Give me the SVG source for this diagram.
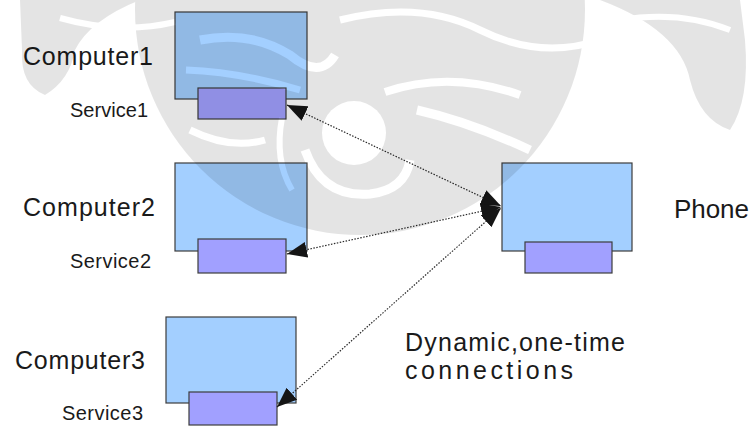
<svg xmlns="http://www.w3.org/2000/svg" width="751" height="426" viewBox="0 0 751 426">
<style>
.comp{fill:#a3cfff;stroke:#3c3c3c;stroke-width:1.2}
.svc{fill:#a1a0ff;stroke:#3c3c3c;stroke-width:1.2}
.big{font-family:"Liberation Sans",Arial,sans-serif;font-size:25px;fill:#1a1a1a}
.small{font-family:"Liberation Sans",Arial,sans-serif;font-size:20px;fill:#1a1a1a}
.note{font-family:"Liberation Sans",Arial,sans-serif;font-size:25px;fill:#1a1a1a}
.conn{fill:none;stroke:#2a2a2a;stroke-width:1.2;stroke-dasharray:1.5 1.5}
.wm{fill:#000;opacity:0.1}
.hole{fill:none;stroke:#000}
</style>
<defs>
<marker id="ah" markerUnits="userSpaceOnUse" markerWidth="22" markerHeight="18" refX="20" refY="8" orient="auto-start-reverse" viewBox="0 0 22 18">
<path d="M0,0 L20,8 L0,16 z" fill="#151515"/>
</marker>
<mask id="wmask">
<rect x="0" y="0" width="751" height="426" fill="#fff"/>
<circle cx="354" cy="133" r="32" fill="#000"/>
<path class="hole" d="M305,150 Q322,198 370,194 Q405,190 410,160" stroke-width="9"/>
<path class="hole" d="M282,118 Q274,160 292,190" stroke-width="6"/>
<path class="hole" d="M417,110 Q470,122 530,150" stroke-width="9"/>
<path class="hole" d="M385,92 Q450,70 520,95" stroke-width="8"/>
<path class="hole" d="M200,40 Q250,30 290,55 Q320,80 335,55" stroke-width="9"/>
<path class="hole" d="M186,70 Q240,72 300,90" stroke-width="7"/>
<path class="hole" d="M60,18 Q120,35 175,22" stroke-width="6"/>
<path class="hole" d="M340,20 Q420,0 480,30 Q540,60 600,40" stroke-width="7"/>
<path class="hole" d="M620,20 Q680,10 730,30" stroke-width="6"/>
<path class="hole" d="M190,130 Q230,150 265,140" stroke-width="7"/>
</mask>
</defs>
<rect x="0" y="0" width="751" height="426" fill="#fff"/>
<g id="computer1">
<rect class="comp" x="175" y="12" width="132" height="87"/>
<text class="big" x="23" y="65" textLength="130">Computer1</text>
</g>
<g id="service1">
<rect class="svc" x="198" y="88" width="88" height="31"/>
<text class="small" x="70" y="117" textLength="78">Service1</text>
</g>
<g id="computer2">
<rect class="comp" x="175" y="163" width="132" height="88"/>
<text class="big" x="23" y="216" textLength="132">Computer2</text>
</g>
<g id="service2">
<rect class="svc" x="198" y="239" width="88" height="34"/>
<text class="small" x="70" y="268" textLength="81">Service2</text>
</g>
<g id="computer3">
<rect class="comp" x="166" y="317" width="130" height="86"/>
<text class="big" x="15" y="369" textLength="130">Computer3</text>
</g>
<g id="service3">
<rect class="svc" x="189" y="392" width="88" height="33"/>
<text class="small" x="62" y="420" textLength="81">Service3</text>
</g>
<g id="phone">
<rect class="comp" x="502" y="163" width="130" height="88"/>
<rect class="svc" x="525" y="242" width="87" height="31"/>
<text class="big" x="674" y="218" style="font-size:26px" textLength="75">Phone</text>
</g>
<g id="note">
<text class="note" x="405" y="351" textLength="220">Dynamic,one-time</text>
<text class="note" x="405" y="379" textLength="168">connections</text>
</g>
<g id="connectors">
<line class="conn" x1="287" y1="105" x2="501" y2="206" marker-start="url(#ah)" marker-end="url(#ah)"/>
<line class="conn" x1="287" y1="254" x2="501" y2="207" marker-start="url(#ah)" marker-end="url(#ah)"/>
<line class="conn" x1="277" y1="407" x2="501" y2="208" marker-start="url(#ah)" marker-end="url(#ah)"/>
</g>
<g id="watermark" class="wm" mask="url(#wmask)">
<circle cx="360" cy="10" r="225"/>
<path d="M20,0 L140,0 Q90,20 75,50 Q70,80 45,95 Q20,85 22,50 Z"/>
<path d="M740,0 L600,0 Q680,30 690,80 Q700,120 730,130 Q750,100 745,40 Z"/>
</g>
</svg>
